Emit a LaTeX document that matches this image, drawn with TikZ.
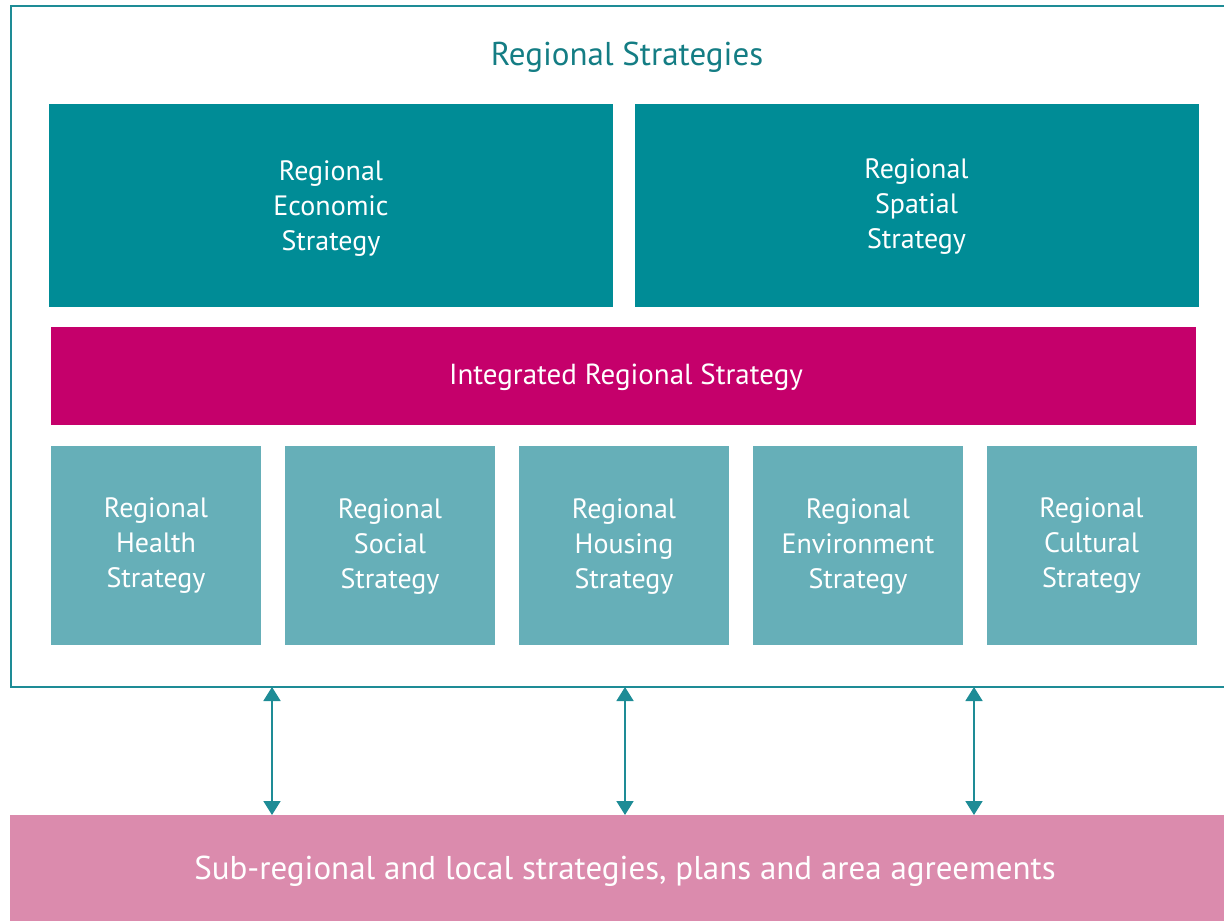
\documentclass[tikz,border=0pt]{standalone}
\usepackage{fontspec}
\setmainfont{PT Sans}
\usetikzlibrary{arrows.meta}
\definecolor{darkteal}{RGB}{0,140,150}
\definecolor{lightteal}{RGB}{102,175,184}
\definecolor{magentabox}{RGB}{197,0,107}
\definecolor{pinkbox}{RGB}{219,139,173}
\definecolor{bordteal}{RGB}{30,140,150}
\definecolor{titleteal}{RGB}{20,125,132}
\tikzset{
  boxtext/.style={text=white, font=\fontsize{28}{35}\selectfont, align=center, inner sep=0pt, outer sep=0pt},
  bigbox/.style={fill=darkteal, minimum height=203pt, minimum width=564pt, inner sep=0pt},
  smallbox/.style={fill=lightteal, minimum height=199pt, minimum width=210pt, inner sep=0pt},
  linkarrow/.style={bordteal, line width=1.8pt, {Triangle[length=14pt,width=17pt]}-{Triangle[length=14pt,width=17pt]}}
}
\begin{document}
\begin{tikzpicture}[x=1pt,y=-1pt]
\useasboundingbox (0,0) rectangle (1224,921);
\draw[bordteal, line width=2pt] (1226,6) -- (11,6) -- (11,687) -- (1226,687);
\node[text=titleteal, font=\fontsize{33}{38}\selectfont] (title) at (627,57) {Regional Strategies};
\node[bigbox] (eco) at (331,205.5) {};
\node[bigbox] (spa) at (916.5,205.5) {};
\node[boxtext] (ecotext) at ([yshift=-3pt]eco.center) {Regional\\Economic\\Strategy};
\node[boxtext] (spatext) at ([yshift=-1pt]spa.center) {Regional\\Spatial\\Strategy};
\node[fill=magentabox, minimum width=1145pt, minimum height=98pt, inner sep=0pt] (irs) at (623.5,376) {};
\node[text=white, font=\fontsize{29}{35}\selectfont] (irstext) at (626,377) {Integrated Regional Strategy};
\node[smallbox] (hea) at (156,545.5) {};
\node[smallbox] (soc) at (390,545.5) {};
\node[smallbox] (hou) at (624,545.5) {};
\node[smallbox] (env) at (858,545.5) {};
\node[smallbox] (cul) at (1091.5,545.5) {};
\node[boxtext] (heatext) at (hea.center) {Regional\\Health\\Strategy};
\node[boxtext] (soctext) at ([yshift=-1pt]soc.center) {Regional\\Social\\Strategy};
\node[boxtext] (houtext) at ([yshift=-1pt]hou.center) {Regional\\Housing\\Strategy};
\node[boxtext] (envtext) at ([yshift=-1pt]env.center) {Regional\\Environment\\Strategy};
\node[boxtext] (cultext) at (cul.center) {Regional\\Cultural\\Strategy};
\node[fill=pinkbox, minimum width=1216pt, minimum height=108pt, inner sep=0pt, anchor=north west] (sub) at (10,815) {};
\node[text=white, font=\fontsize{33}{38}\selectfont] (subtext) at (625,871) {Sub-regional and local strategies, plans and area agreements};
\coordinate (t1) at (272,687);
\coordinate (t2) at (625,687);
\coordinate (t3) at (974,687);
\draw[linkarrow] (t1) -- (t1 |- sub.north);
\draw[linkarrow] (t2) -- (t2 |- sub.north);
\draw[linkarrow] (t3) -- (t3 |- sub.north);
\end{tikzpicture}
\end{document}
